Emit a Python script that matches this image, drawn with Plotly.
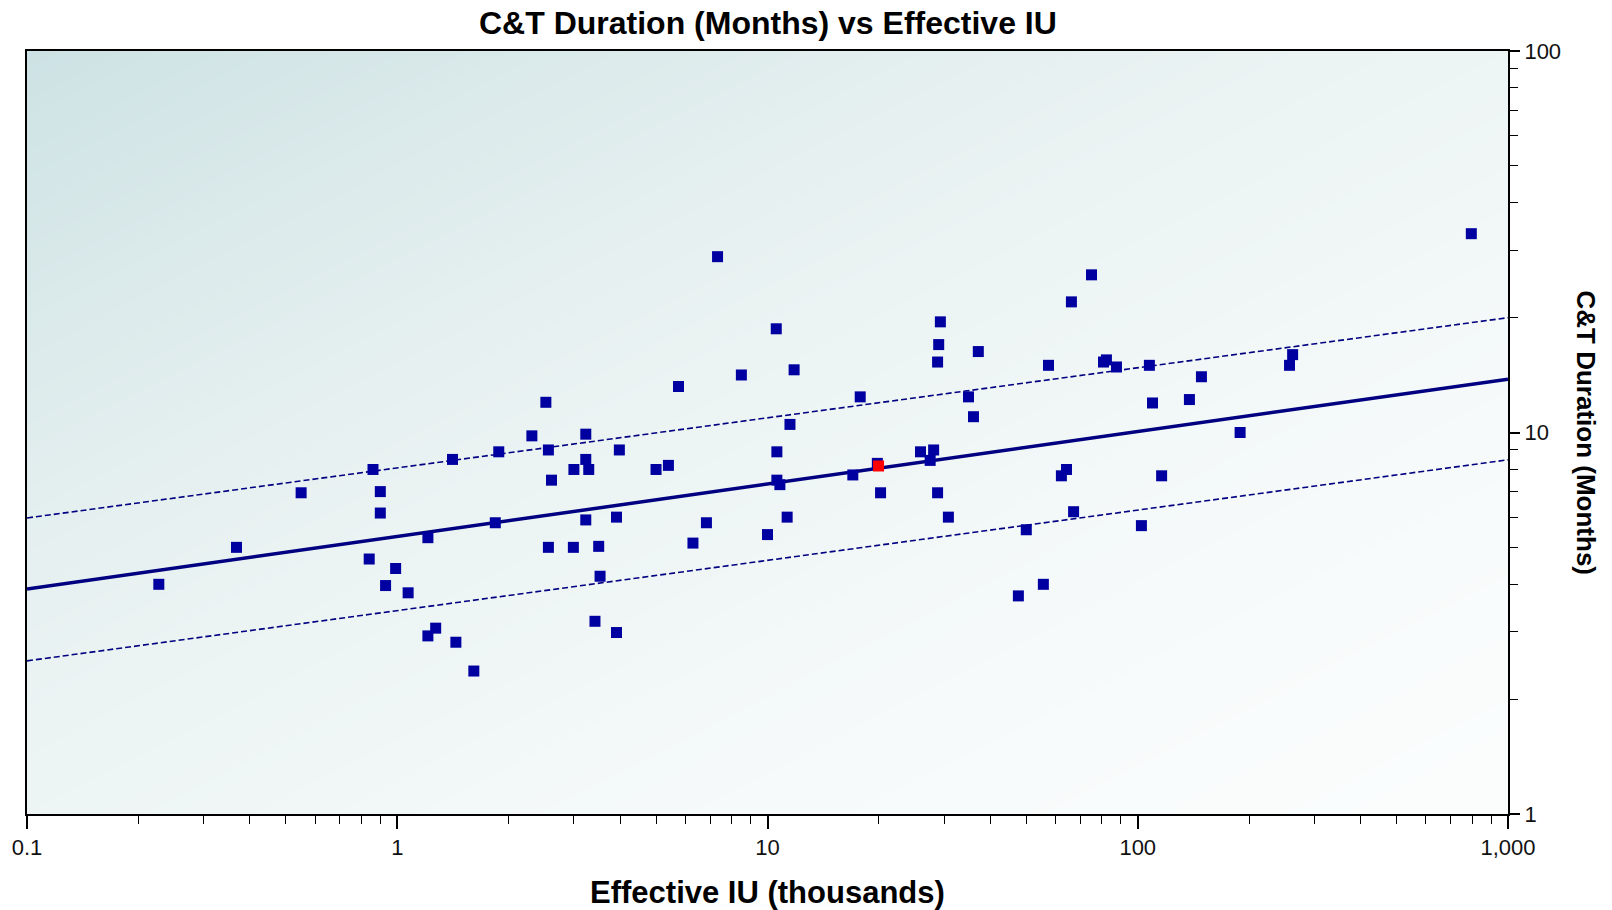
import plotly.graph_objects as go
import numpy as np

# ---- data ----
iu_thousands = [0.227, 0.368, 0.55, 0.84, 0.86, 0.90, 0.90, 0.93, 0.99, 1.07,
                1.21, 1.21, 1.27, 1.41, 1.44, 1.61, 1.84, 1.88, 2.31, 2.52,
                2.56, 2.56, 2.61, 3.0, 2.99, 3.23, 3.23, 3.23, 3.29, 3.42,
                3.5, 3.53, 3.91, 3.98, 3.91, 5.0, 5.4, 5.75, 6.29, 6.84,
                7.33, 8.5, 10.0, 10.56, 10.6, 10.6, 10.8, 11.3, 11.5, 11.8,
                17.0, 17.8, 19.8, 20.2, 25.9, 27.5, 28.1, 28.8, 28.8, 29.0,
                29.3, 30.8, 34.9, 36.0, 37.1, 47.6, 50.0, 55.6, 57.4, 62.2,
                64.2, 66.2, 67.1, 75.0, 80.8, 82.3, 87.6, 102.3, 107.5, 109.6,
                116.0, 137.9, 148.6, 189.0, 257.0, 262.0, 796.0]
duration_months = [4.0, 5.0, 6.95, 4.66, 8.0, 7.0, 6.15, 3.97, 4.4, 3.8,
                   5.3, 2.93, 3.07, 8.5, 2.82, 2.37, 5.8, 8.9, 9.8, 12.0,
                   9.0, 5.0, 7.5, 8.0, 5.0, 9.9, 8.5, 5.9, 8.0, 3.2,
                   5.03, 4.2, 6.0, 9.0, 2.99, 8.0, 8.2, 13.2, 5.13, 5.8,
                   28.9, 14.15, 5.4, 18.7, 8.9, 7.5, 7.3, 6.0, 10.5, 14.6,
                   7.74, 12.4, 8.3, 6.95, 8.9, 8.45, 9.0, 6.95, 15.3, 17.0,
                   19.5, 6.0, 12.4, 11.0, 16.3, 3.73, 5.56, 4.0, 15.0, 7.7,
                   8.0, 22.0, 6.2, 25.9, 15.3, 15.5, 14.85, 5.7, 15.0, 11.95,
                   7.7, 12.2, 14.0, 10.0, 15.0, 16.0, 33.2]

highlight_iu = [19.95]
highlight_months = [8.17]

fit_x = [0.1, 1000]
fit_y = [3.89, 13.8]
upper_y = [5.97, 20.0]
lower_y = [2.52, 8.48]

x_tickvals = [0.1, 1, 10, 100, 1000]
x_ticktext = ["0.1", "1", "10", "100", "1,000"]
y_tickvals = [1, 10, 100]
y_ticktext = ["1", "10", "100"]

title_text = "C&T Duration (Months) vs Effective IU"
x_title = "Effective IU (thousands)"
y_title = "C&T Duration (Months)"

# ---- styling ----
NAVY = "#000080"
MARK = "#0000a0"
TICKFONT = dict(family="Liberation Sans Narrow, Arial Narrow, Liberation Sans, Arial",
                size=22, color="#111")
BOLD = "Liberation Sans, Arial, sans-serif"

W, H = 1612, 910
L, T = 27, 51
PLOT_W, PLOT_H = 1481, 763

minor_x = [m * 10.0 ** k for k in range(-1, 3) for m in range(2, 10)]
minor_y = [m * 10.0 ** k for k in range(0, 2) for m in range(2, 10)]

# background gradient (style only)
n = 40
gx = np.linspace(0, 1, n)
gy = np.linspace(0, 1, n)
GX, GY = np.meshgrid(gx, gy)
shade = (((1 - GX) + GY) / 2.0) ** 1.5

fig = go.Figure()
fig.add_trace(go.Heatmap(
    x=gx, y=gy, z=shade, zsmooth="best", showscale=False, hoverinfo="skip",
    colorscale=[[0, "#fbfdfd"], [0.5, "#e8f1f1"], [1, "#cde2e4"]],
    zmin=0, zmax=1, xaxis="x", yaxis="y"))

fig.add_trace(go.Scatter(x=fit_x, y=upper_y, mode="lines",
                         line=dict(color=NAVY, width=1.6, dash="6px,3px"),
                         xaxis="x2", yaxis="y2", showlegend=False))
fig.add_trace(go.Scatter(x=fit_x, y=lower_y, mode="lines",
                         line=dict(color=NAVY, width=1.6, dash="6px,3px"),
                         xaxis="x2", yaxis="y2", showlegend=False))
fig.add_trace(go.Scatter(x=fit_x, y=fit_y, mode="lines",
                         line=dict(color=NAVY, width=3.5),
                         xaxis="x2", yaxis="y2", showlegend=False))
fig.add_trace(go.Scatter(x=iu_thousands, y=duration_months, mode="markers",
                         marker=dict(symbol="square", size=11, color=MARK),
                         xaxis="x2", yaxis="y2", showlegend=False))
fig.add_trace(go.Scatter(x=highlight_iu, y=highlight_months, mode="markers",
                         marker=dict(symbol="square", size=11, color="#ff0000"),
                         xaxis="x2", yaxis="y2", showlegend=False))

fig.update_layout(
    width=W, height=H,
    margin=dict(l=L, r=W - L - PLOT_W, t=T, b=H - T - PLOT_H, autoexpand=False),
    paper_bgcolor="white", plot_bgcolor="white",
    showlegend=False,
    xaxis=dict(range=[0, 1], visible=False, fixedrange=True),
    yaxis=dict(range=[0, 1], visible=False, fixedrange=True),
    xaxis2=dict(type="log", range=[-1, 3], overlaying="x", side="bottom",
                tickmode="array", tickvals=x_tickvals, ticktext=x_ticktext,
                ticks="outside", ticklen=13, tickwidth=1.5, tickcolor="black",
                minor=dict(tickmode="array", tickvals=minor_x, ticks="outside",
                           ticklen=8, tickwidth=1.2, tickcolor="black", showgrid=False),
                showgrid=False, zeroline=False,
                showline=True, linecolor="black", linewidth=2, mirror=True,
                tickfont=TICKFONT),
    yaxis2=dict(type="log", range=[0, 2], overlaying="y", side="right",
                tickmode="array", tickvals=y_tickvals, ticktext=y_ticktext,
                ticks="outside", ticklen=10, tickwidth=1.5, tickcolor="black",
                minor=dict(tickmode="array", tickvals=minor_y, ticks="outside",
                           ticklen=8, tickwidth=1.2, tickcolor="black", showgrid=False),
                showgrid=True, gridcolor="#8a8a8a", griddash="dot", gridwidth=1,
                zeroline=False,
                showline=True, linecolor="black", linewidth=2, mirror=True,
                tickfont=TICKFONT),
    annotations=[
        dict(text=title_text, xref="paper", yref="paper",
             x=0.5, y=1 + 28 / PLOT_H, xanchor="center", yanchor="middle",
             showarrow=False,
             font=dict(family=BOLD, size=32, color="black", weight="bold")),
        dict(text=x_title, xref="paper", yref="paper",
             x=0.5, y=-78 / PLOT_H, xanchor="center", yanchor="middle",
             showarrow=False,
             font=dict(family=BOLD, size=31, color="black", weight="bold")),
        dict(text=y_title, textangle=90, xref="paper", yref="paper",
             x=1.0 + 78 / PLOT_W, y=0.5, xanchor="center", yanchor="middle",
             showarrow=False,
             font=dict(family=BOLD, size=26, color="black", weight="bold")),
    ],
)

fig.write_html("out.html", config={"displayModeBar": False},
               post_script="document.body.style.margin='0px';document.body.style.overflow='hidden';")
